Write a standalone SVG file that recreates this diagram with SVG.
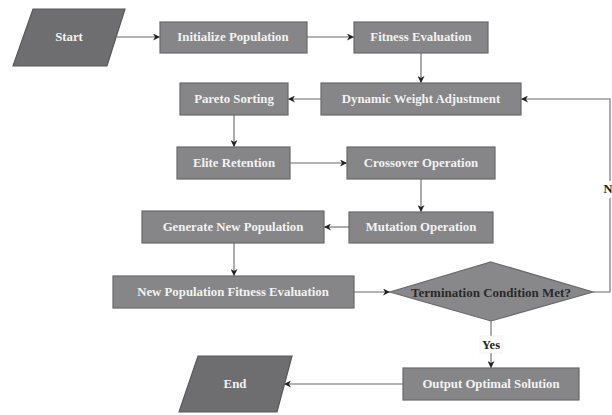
<svg xmlns="http://www.w3.org/2000/svg" width="612" height="415" viewBox="0 0 612 415">
<defs>
<style>
.box{fill:#868688;stroke:#6a6a6c;stroke-width:1.2}
.term{fill:#6e6e71;stroke:#59595b;stroke-width:1.2}
.dia{fill:#88888a;stroke:#6a6a6c;stroke-width:1.2}
.t{font-family:"Liberation Serif","Times New Roman",serif;font-weight:bold;font-size:12.8px;fill:#f2f2f2;text-anchor:middle;dominant-baseline:central}
.td{font-family:"Liberation Serif","Times New Roman",serif;font-weight:bold;font-size:13px;fill:#2a2a2a;text-anchor:middle;dominant-baseline:central}
.lbl{font-family:"Liberation Serif","Times New Roman",serif;font-weight:bold;font-size:12.5px;fill:#222;text-anchor:middle;dominant-baseline:central}
.c{fill:none;stroke:#6a6a6a;stroke-width:1.1}
</style>
<marker id="arr" viewBox="0 0 10 10" refX="10" refY="5" markerWidth="7" markerHeight="7" orient="auto" markerUnits="userSpaceOnUse">
<path d="M0,0 L10,5 L0,10 L3,5 Z" fill="#222"/>
</marker>
</defs>
<rect width="612" height="415" fill="#fff"/>
<g id="connectors">
<line class="c" x1="117" y1="37" x2="160" y2="37" marker-end="url(#arr)"/>
<line class="c" x1="307" y1="37" x2="354" y2="37" marker-end="url(#arr)"/>
<line class="c" x1="421" y1="53" x2="421" y2="83" marker-end="url(#arr)"/>
<line class="c" x1="321" y1="99" x2="288" y2="99" marker-end="url(#arr)"/>
<line class="c" x1="234" y1="115" x2="234" y2="147" marker-end="url(#arr)"/>
<line class="c" x1="290" y1="163" x2="347" y2="163" marker-end="url(#arr)"/>
<line class="c" x1="421" y1="179" x2="421" y2="212" marker-end="url(#arr)"/>
<line class="c" x1="349" y1="227" x2="324" y2="227" marker-end="url(#arr)"/>
<line class="c" x1="234" y1="243" x2="234" y2="276" marker-end="url(#arr)"/>
<line class="c" x1="354" y1="292" x2="390" y2="292" marker-end="url(#arr)"/>
<line class="c" x1="491" y1="321" x2="491" y2="368" marker-end="url(#arr)"/>
<line class="c" x1="403" y1="384" x2="284" y2="384" marker-end="url(#arr)"/>
<polyline class="c" points="593,292 610,292 610,99 521,99" marker-end="url(#arr)"/>
<rect x="602" y="181" width="12" height="17" fill="#fff"/>
<text class="lbl" x="608" y="189">N</text>
<rect x="480" y="336" width="22" height="17" fill="#fff" stroke="#e6e6e6" stroke-width="0.6"/>
<text class="lbl" x="491" y="345">Yes</text>
</g>
<g id="start">
<polygon class="term" points="33,9 125,9 107,66 13,66"/>
<text class="t" x="69" y="37">Start</text>
</g>
<g id="init">
<rect class="box" x="160" y="22" width="147" height="31"/>
<text class="t" x="233" y="37">Initialize Population</text>
</g>
<g id="fitness">
<rect class="box" x="354" y="22" width="134" height="31"/>
<text class="t" x="421" y="37">Fitness Evaluation</text>
</g>
<g id="dynamic">
<rect class="box" x="321" y="83" width="200" height="32"/>
<text class="t" x="421" y="99">Dynamic Weight Adjustment</text>
</g>
<g id="pareto">
<rect class="box" x="180" y="83" width="108" height="32"/>
<text class="t" x="234" y="99">Pareto Sorting</text>
</g>
<g id="elite">
<rect class="box" x="177" y="147" width="113" height="32"/>
<text class="t" x="234" y="163">Elite Retention</text>
</g>
<g id="crossover">
<rect class="box" x="347" y="147" width="148" height="32"/>
<text class="t" x="421" y="163">Crossover Operation</text>
</g>
<g id="mutation">
<rect class="box" x="349" y="212" width="144" height="31"/>
<text class="t" x="421" y="227">Mutation Operation</text>
</g>
<g id="generate">
<rect class="box" x="142" y="211" width="182" height="32"/>
<text class="t" x="233" y="227">Generate New Population</text>
</g>
<g id="newfitness">
<rect class="box" x="113" y="276" width="241" height="32"/>
<text class="t" x="233" y="292">New Population Fitness Evaluation</text>
</g>
<g id="termination">
<polygon class="dia" points="491,262 593,292 491,321 390,292"/>
<text class="td" x="491" y="292">Termination Condition Met?</text>
</g>
<g id="output">
<rect class="box" x="403" y="368" width="176" height="32"/>
<text class="t" x="491" y="384">Output Optimal Solution</text>
</g>
<g id="end">
<polygon class="term" points="198,356 292,356 277,412 179,412"/>
<text class="t" x="235" y="384">End</text>
</g>
</svg>
